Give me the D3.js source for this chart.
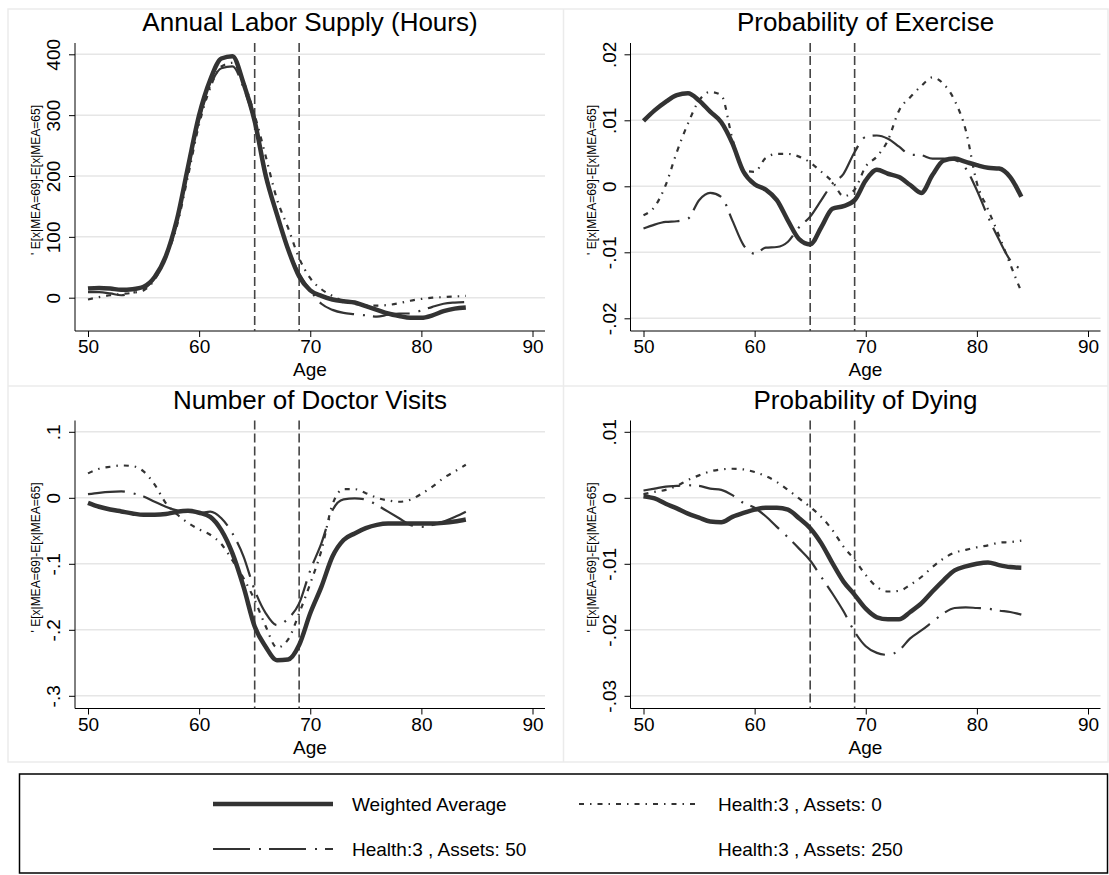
<!DOCTYPE html>
<html>
<head>
<meta charset="utf-8">
<script src="https://cdn.jsdelivr.net/npm/d3@7"></script>
<style>
  body { margin: 0; background: #fff; }
  text { font-family: Arial, "Liberation Sans", Helvetica, sans-serif; fill: #000; }
</style>
</head>
<body>
<svg id="chart" width="1109" height="875"></svg>
<script>
// ages on the x axis
const ages = [50,51,52,53,54,55,56,57,58,59,60,61,62,63,64,65,66,67,68,69,70,71,72,73,74,75,76,77,78,79,80,81,82,83,84];
const xTicks = [50, 60, 70, 80, 90];
const retireLines = [65, 69];

const titles = ["Annual Labor Supply (Hours)", "Probability of Exercise", "Number of Doctor Visits", "Probability of Dying"];
const yTitle = "' E[x|MEA=69]-E[x|MEA=65]";
const legendLabels = ["Weighted Average", "Health:3 , Assets: 0", "Health:3 , Assets: 50", "Health:3 , Assets: 250"];

const laborTicks = [0, 100, 200, 300, 400];
const exerciseTicks = [-0.02, -0.01, 0, 0.01, 0.02];
const doctorTicks = [-0.3, -0.2, -0.1, 0, 0.1];
const dyingTicks = [-0.03, -0.02, -0.01, 0, 0.01];

// annual labor supply
const laborAvg = [15,16,15,13,14,18,34,68,128,215,300,358,393,397,352,290,200,137,80,35,12,3,-3,-6,-8,-14,-20,-26,-30,-33,-33,-29,-22,-18,-16];
const laborAssets0 = [-3,1,4,6,8,12,30,66,118,200,285,345,380,386,355,300,232,162,115,65,32,14,3,-6,-10,-13,-13,-12,-9,-5,-2,0,1,2,3];
const laborAssets50 = [9,9,7,4,8,14,33,68,125,210,292,348,377,380,345,288,205,140,80,40,12,-10,-20,-25,-27,-29,-31,-28,-26,-26,-21,-15,-10,-8,-7];

// probability of exercise
const exerAvg = [.0099,.0115,.0128,.0138,.0141,.013,.0113,.0097,.0065,.0022,.0003,-.0005,-.0021,-.0052,-.008,-.0088,-.0062,-.0034,-.003,-.0021,.0009,.0025,.0019,.0014,.0002,-.001,.0017,.0039,.0042,.0037,.0032,.0028,.0027,.0014,-.0016];
const exerAssets0 = [-.0044,-.0031,.0002,.0052,.0095,.013,.0143,.0138,.0072,.0024,.0022,.0043,.0049,.0049,.0045,.0036,.0022,.0007,-.0015,-.0005,.003,.0045,.007,.0115,.0135,.0152,.0165,.0155,.013,.0085,.0005,-.0035,-.0075,-.0118,-.016];
const exerAssets50 = [-.0064,-.0058,-.0054,-.0053,-.0049,-.0021,-.001,-.0016,-.0052,-.0089,-.0102,-.0093,-.0092,-.0084,-.0062,-.0046,-.0021,.0004,.0019,.0052,.0075,.0077,.0072,.006,.0048,.0047,.0042,.0042,.004,.0027,-.0006,-.0046,-.0081,-.0112,-.0126];

// number of doctor visits
const doctorAvg = [-.0076,-.0136,-.0177,-.0207,-.0237,-.0258,-.0258,-.0247,-.0212,-.0197,-.0227,-.0288,-.049,-.0843,-.135,-.195,-.226,-.246,-.245,-.223,-.175,-.135,-.089,-.064,-.054,-.046,-.041,-.039,-.039,-.039,-.039,-.039,-.038,-.036,-.033];
const doctorAssets0 = [.037,.044,.047,.049,.048,.04,.02,-.008,-.025,-.038,-.048,-.056,-.07,-.095,-.122,-.155,-.195,-.227,-.215,-.175,-.13,-.08,-.01,.013,.013,.007,0,-.004,-.006,-.003,.006,.017,.03,.04,.05];
const doctorAssets50 = [.0056,.0076,.009,.0096,.007,.002,-.006,-.0136,-.019,-.021,-.023,-.021,-.031,-.054,-.089,-.14,-.175,-.193,-.183,-.16,-.11,-.069,-.019,-.0025,-.001,-.0025,-.011,-.021,-.031,-.041,-.044,-.041,-.036,-.029,-.021];

// probability of dying
const dyingAvg = [.00025,-.0001,-.0009,-.0016,-.0024,-.003,-.0036,-.0037,-.0029,-.0023,-.0018,-.0015,-.0015,-.0018,-.0031,-.0046,-.0069,-.0099,-.0127,-.0147,-.0168,-.0181,-.0184,-.0184,-.0173,-.016,-.0142,-.0125,-.011,-.0104,-.01,-.0098,-.0102,-.0105,-.0106];
const dyingAssets0 = [.00055,.0009,.0012,.0018,.0027,.0034,.004,.0043,.0044,.0043,.0039,.0033,.0024,.0012,-.0001,-.0014,-.0029,-.0049,-.0074,-.0094,-.0117,-.0135,-.0142,-.0141,-.0132,-.012,-.0105,-.0092,-.0083,-.0079,-.0075,-.0072,-.0068,-.0067,-.0065];
const dyingAssets50 = [.0011,.0014,.0017,.0018,.0019,.0018,.0014,.0012,.0004,-.0008,-.0015,-.0028,-.0044,-.006,-.0077,-.0095,-.012,-.0145,-.0172,-.0203,-.0225,-.0235,-.0238,-.0231,-.0213,-.0201,-.0188,-.0175,-.0167,-.0166,-.0167,-.0168,-.0171,-.0173,-.0177];

// line looks: weighted average, assets 0, assets 50, assets 250 (not drawn)
const lineStyles = [
  { width: 4.5, dash: null },
  { width: 2.2, dash: "5,6,1.5,6" },
  { width: 2.2, dash: "37,9,2,8" },
  null
];

const panels = [
  { title: titles[0], ticks: laborTicks, px: [297.7, 54.3], series: [laborAvg, laborAssets0, laborAssets50], col: 0, row: 0 },
  { title: titles[1], ticks: exerciseTicks, px: [318.3, 54.3], series: [exerAvg, exerAssets0, exerAssets50], col: 1, row: 0 },
  { title: titles[2], ticks: doctorTicks, px: [318.3, 54.3], series: [doctorAvg, doctorAssets0, doctorAssets50], col: 0, row: 1 },
  { title: titles[3], ticks: dyingTicks, px: [318.3, 54.3], series: [dyingAvg, dyingAssets0, dyingAssets50], col: 1, row: 1 }
];

// stata style: drop the leading zero
const fmt = d => {
  if (d === 0) return "0";
  return String(+d.toFixed(4)).replace(/^(-?)0\./, "$1.");
};

const svg = d3.select("#chart");
const ink = "#333";

// light outlines of the four sub graphs
svg.append("rect").attr("x", 8).attr("y", 9).attr("width", 1100).attr("height", 753)
  .attr("fill", "none").attr("stroke", "#ebebeb").attr("stroke-width", 1.5);
svg.append("line").attr("x1", 563.5).attr("x2", 563.5).attr("y1", 9).attr("y2", 762)
  .attr("stroke", "#ebebeb").attr("stroke-width", 1.5);
svg.append("line").attr("x1", 8).attr("x2", 1108).attr("y1", 386).attr("y2", 386)
  .attr("stroke", "#ebebeb").attr("stroke-width", 1.5);

const axisX = 75, plotRight = 545, plotTop = 43, plotBottom = 331;

panels.forEach(p => {
  const g = svg.append("g").attr("transform", `translate(${p.col * 555.5},${p.row * 377.5})`);

  const x = d3.scaleLinear().domain([50, 90]).range([88, 532.5]);
  const y = d3.scaleLinear().domain([p.ticks[0], p.ticks[p.ticks.length - 1]]).range(p.px);

  g.selectAll(".grid").data(p.ticks).join("line")
    .attr("class", "grid")
    .attr("x1", axisX).attr("x2", plotRight)
    .attr("y1", d => y(d)).attr("y2", d => y(d))
    .attr("stroke", "#e6e6e6").attr("stroke-width", 1.5);

  // y axis
  const ya = g.append("g").attr("transform", `translate(${axisX},0)`)
    .call(d3.axisLeft(y).tickValues(p.ticks).tickSize(6).tickFormat(fmt));
  ya.select(".domain").remove();
  ya.selectAll(".tick line").attr("stroke", "#000");
  ya.selectAll(".tick text")
    .attr("x", 0).attr("dy", 0)
    .attr("text-anchor", "middle")
    .attr("transform", "translate(-15,0) rotate(-90)")
    .style("font-size", "19px")
    .style("font-family", "Arial, 'Liberation Sans', sans-serif")
    .attr("fill", "#000");
  g.append("line").attr("x1", axisX).attr("x2", axisX).attr("y1", plotTop).attr("y2", plotBottom)
    .attr("stroke", "#000").attr("stroke-width", 1);

  // x axis
  const xa = g.append("g").attr("transform", `translate(0,${plotBottom})`)
    .call(d3.axisBottom(x).tickValues(xTicks).tickSize(6));
  xa.select(".domain").remove();
  xa.selectAll(".tick line").attr("stroke", "#000");
  xa.selectAll(".tick text")
    .attr("y", 9)
    .style("font-size", "19px")
    .style("font-family", "Arial, 'Liberation Sans', sans-serif")
    .attr("fill", "#000");
  g.append("line").attr("x1", axisX).attr("x2", plotRight).attr("y1", plotBottom).attr("y2", plotBottom)
    .attr("stroke", "#000").attr("stroke-width", 1);

  // MEA 65 and 69
  g.selectAll(".mea").data(retireLines).join("line")
    .attr("class", "mea")
    .attr("x1", d => x(d)).attr("x2", d => x(d))
    .attr("y1", plotTop).attr("y2", plotBottom)
    .attr("stroke", "#444").attr("stroke-width", 1.6)
    .attr("stroke-dasharray", "9,4");

  const line = d3.line()
    .x((d, i) => x(ages[i]))
    .y(d => y(d))
    .curve(d3.curveMonotoneX);

  // draw dashed ones first, weighted average on top
  [1, 2, 0].forEach(k => {
    const st = lineStyles[k];
    g.append("path")
      .datum(p.series[k])
      .attr("d", line)
      .attr("fill", "none")
      .attr("stroke", ink)
      .attr("stroke-width", st.width)
      .attr("stroke-dasharray", st.dash)
      .attr("stroke-linejoin", "round");
  });

  g.append("text")
    .attr("x", (axisX + plotRight) / 2).attr("y", 31)
    .attr("text-anchor", "middle")
    .style("font-size", "26px")
    .text(p.title);

  g.append("text")
    .attr("x", (axisX + plotRight) / 2).attr("y", 376)
    .attr("text-anchor", "middle")
    .style("font-size", "19px")
    .text("Age");

  g.append("text")
    .attr("transform", `translate(40,180) rotate(-90)`)
    .attr("text-anchor", "middle")
    .style("font-size", "12px")
    .text(yTitle);
});

// legend
svg.append("rect").attr("x", 19.5).attr("y", 774).attr("width", 1088).attr("height", 99)
  .attr("fill", "#fff").attr("stroke", "#000").attr("stroke-width", 1.5);

const keyCols = [213, 579];
const rows = [804, 849];
legendLabels.forEach((lab, i) => {
  const cx = keyCols[i % 2], cy = rows[Math.floor(i / 2)];
  const st = lineStyles[i];
  if (st) {
    svg.append("line")
      .attr("x1", cx).attr("x2", cx + 120).attr("y1", cy).attr("y2", cy)
      .attr("stroke", ink)
      .attr("stroke-width", st.width)
      .attr("stroke-dasharray", st.dash);
  }
  svg.append("text")
    .attr("x", cx + 139).attr("y", cy).attr("dy", "0.35em")
    .style("font-size", "19px")
    .text(lab);
});
</script>
</body>
</html>
